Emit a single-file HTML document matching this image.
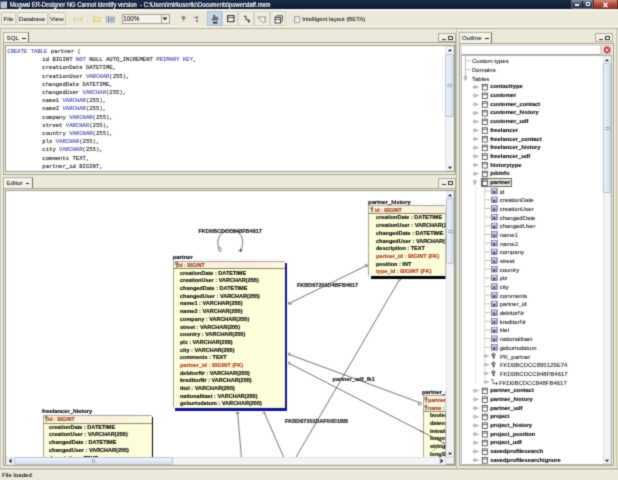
<!DOCTYPE html>
<html><head><meta charset="utf-8">
<style>
*{margin:0;padding:0;box-sizing:border-box}
html,body{width:618px;height:480px;overflow:hidden;background:#ece9d8;font-family:"Liberation Sans",sans-serif;position:relative}
.a{position:absolute}
.t{position:absolute;white-space:pre;line-height:1}
#title{left:0;top:0;width:618px;height:9px;background:linear-gradient(#1c2c48,#0c1a30)}
.btn{position:absolute;border:1px solid #cdc9b8;background:#f0ede3;font-size:6.2px;color:#2a2a2a;-webkit-text-stroke:0.1px #2a2a2a;text-align:center;line-height:11px;border-radius:1px}
.tab{position:absolute;border:1px solid #9d9a89;border-bottom:none;background:#f0eee2;font-size:6px;color:#333}
.minmax{position:absolute;border:1px solid #a8a595;background:#f4f2ea}
.white{position:absolute;background:#fff}
.vs{position:absolute;background:#eef0f4;border-left:1px solid #e2e4e8}
.sql{position:absolute;font-family:"Liberation Mono",monospace;font-size:5.58px;color:#262626;white-space:pre;line-height:8.2px;-webkit-text-stroke:0.12px #262626}
.kw{color:#3a3aa8;-webkit-text-stroke:0.08px #3a3aa8}
.tree{position:absolute;font-size:6px;color:#111;white-space:pre;line-height:8.68px}
.tbl{position:absolute;background:#ffffdc;border:1px solid #a8a8a0}
.tbl .r{position:absolute;left:0;white-space:pre;font-size:5.6px;font-weight:bold;color:#1a1a10;line-height:1}
.fk{color:#b83a20 !important}
.ttl{position:absolute;font-size:5.8px;font-weight:bold;color:#111;white-space:pre;line-height:1}
.lbl{position:absolute;font-size:5.5px;font-weight:bold;color:#333;white-space:pre;line-height:1}
</style></head><body><svg width="0" height="0" style="position:absolute"><filter id="soft" x="0" y="0" width="100%" height="100%" color-interpolation-filters="sRGB"><feConvolveMatrix order="3" kernelMatrix="1 2 1 2 12 2 1 2 1" edgeMode="duplicate" preserveAlpha="true"/></filter></svg><div id="root" style="position:absolute;left:0;top:0;width:618px;height:480px;overflow:hidden;background:#ece9d8;will-change:transform;filter:url(#soft)">
<div id="title" class="a"></div>
<svg class="a" style="left:0;top:1px" width="8" height="8"><rect x="0.6" y="0.6" width="6.4" height="6.6" fill="#d8dce2"/><rect x="1.6" y="1.5" width="2" height="2" fill="#9aa2ae"/><rect x="4.2" y="1.5" width="2" height="2" fill="#b8bec8"/><rect x="1.6" y="4.3" width="2" height="2" fill="#b0b6c0"/><rect x="4.2" y="4.3" width="2" height="2" fill="#a0a8b2"/></svg>
<div class="t" style="left:10.4px;top:1.6px;font-size:6.5px;color:#fff;transform:scaleX(0.9);transform-origin:0 0;-webkit-text-stroke:0.2px #fff">Mogwai ER-Designer NG Cannot identify version  - C:\Users\mirkosertic\Documents\powerstaff.mxm</div>
<div class="a" style="left:571px;top:0;width:22px;height:8.6px;background:linear-gradient(#8894a4,#3a4454 55%,#2c3646);border:0.6px solid #5a6676;border-top:none;border-radius:0 0 0 2px"></div>
<div class="a" style="left:582.2px;top:0.5px;width:0.8px;height:7.5px;background:#1c2430"></div>
<div class="a" style="left:574.5px;top:4.3px;width:4.8px;height:1.4px;background:#f0f4f8"></div>
<div class="a" style="left:585.8px;top:2.2px;width:4.2px;height:3.8px;border:1px solid #f0f4f8;border-top-width:1.4px"></div>
<div class="a" style="left:593px;top:0;width:24.5px;height:8.6px;background:linear-gradient(#d88a7a,#b04a38 55%,#9a3828);border:0.6px solid #6a2a20;border-top:none;border-radius:0 0 2px 0"></div>
<svg class="a" style="left:602px;top:1.5px" width="7" height="6" viewBox="0 0 7 6"><path d="M1.5 0.8l4 4.4M5.5 0.8l-4 4.4" stroke="#fff" stroke-width="1.3"/></svg>


<!-- toolbar -->
<div class="a" style="left:0;top:9px;width:618px;height:1.5px;background:#f6f4ec"></div>
<div class="btn" style="left:1px;top:12px;width:15px;height:13px;line-height:12px">File</div>
<div class="btn" style="left:16.5px;top:12px;width:31px;height:13px;line-height:12px">Database</div>
<div class="btn" style="left:48.5px;top:12px;width:17px;height:13px;line-height:12px">View</div>
<div class="a" style="left:0;top:26px;width:618px;height:1px;background:#f8f6ee"></div>
<div class="a" style="left:0;top:28px;width:618px;height:1px;background:#b8b4a2"></div>
<!-- new icon -->
<svg class="a" style="left:73px;top:15.5px" width="10" height="6.5" viewBox="0 0 10 6.5"><g stroke="#e0c88a" stroke-width="1"><path d="M1.5 1v4.5M0.3 3.2h2.4M5 1v4.5M3.8 3.2h2.4M8.5 1v4.5M7.3 3.2h2.4"/></g></svg>
<div class="a" style="left:86.5px;top:15px;width:0.8px;height:7px;background:#e4e0d2"></div>
<!-- folder -->
<svg class="a" style="left:92.5px;top:16px" width="8.5" height="6" viewBox="0 0 8.5 6"><path d="M0.5 0.8h2.6l0.8 0.8h4.1v4h-7.5z" fill="#ece29c" stroke="#cdbb6a" stroke-width="0.6"/><path d="M0.5 2.6h7.5" stroke="#fff6c8" stroke-width="0.7"/></svg>
<!-- blue icon -->
<svg class="a" style="left:105.5px;top:16px" width="9" height="7" viewBox="0 0 9 7"><rect x="0.5" y="0.5" width="8" height="6" fill="#cfdcea" stroke="#8aa0b8" stroke-width="0.6"/><path d="M2.5 1.2v4.8M4 2.5h3.6M4 4.6h3.6" stroke="#4a5a70" stroke-width="0.8"/></svg>
<!-- zoom combo -->
<div class="a" style="left:121.5px;top:13.8px;width:48.5px;height:10px;background:#f5f3ec;border:1px solid #a4a292"></div>
<div class="t" style="left:123.3px;top:15.6px;font-size:6.3px;color:#2a2a2a;-webkit-text-stroke:0.1px #2a2a2a">100%</div>
<div class="a" style="left:160.6px;top:14.6px;width:8.6px;height:8.4px;background:#f2f0e8;border-left:1px solid #a8a698"></div>
<svg class="a" style="left:162.2px;top:17.4px" width="6" height="4" viewBox="0 0 6 4"><path d="M0.6 0.6h4.8L3 3.2z" fill="#111"/></svg>
<!-- green/red icons -->
<svg class="a" style="left:179.5px;top:15px" width="7" height="8" viewBox="0 0 7 8"><path d="M1 2l2.5-1.2L6 2.2 4.4 4.5 3.6 7 2.6 4.4z" fill="#6c8c6a" stroke="#c8dcc4" stroke-width="0.5"/></svg>
<svg class="a" style="left:191.5px;top:15px" width="8" height="8" viewBox="0 0 8 8"><path d="M1 2.2l3-1.4 3 1.4-2.2 2.4L1.8 3.6z" fill="#c8bccc"/><circle cx="4.8" cy="2.6" r="1" fill="#6a5a60"/><circle cx="5.2" cy="6" r="0.9" fill="#5a4a50"/></svg>
<!-- toggle buttons -->
<div class="a" style="left:206.5px;top:11px;width:15.3px;height:15px;background:#c6d6e8;border:1px solid #a8bcd2"></div>
<div class="a" style="left:222.3px;top:11px;width:15.5px;height:15px;background:#efece2;border:1px solid #d6d3c4"></div>
<div class="a" style="left:238.2px;top:11px;width:15.6px;height:15px;background:#efece2;border:1px solid #d6d3c4"></div>
<div class="a" style="left:254.2px;top:11px;width:15.6px;height:15px;background:#efece2;border:1px solid #d6d3c4"></div>
<div class="a" style="left:270.2px;top:11px;width:15.6px;height:15px;background:#efece2;border:1px solid #d6d3c4"></div>
<svg class="a" style="left:211px;top:13.5px" width="8" height="10" viewBox="0 0 8 10"><path d="M2.6 1v4.2L1.2 4.6 0.8 5.4 2.6 7.2h3.6l0.6-1.6V3.6L5.8 3.2 5 3.4 4 3V1.6z" fill="#6a6e78" stroke="#3a3c44" stroke-width="0.5"/><rect x="2" y="6.6" width="4.6" height="1.2" fill="#fff"/><rect x="2" y="7.8" width="4.4" height="1.7" fill="#222"/></svg>
<svg class="a" style="left:226.5px;top:15.3px" width="8" height="7.5" viewBox="0 0 8 7.5"><rect x="0.6" y="0.6" width="6.4" height="6" fill="#fff" stroke="#333" stroke-width="1.1"/><path d="M0.6 2.8h6.4" stroke="#333" stroke-width="0.9"/></svg>
<svg class="a" style="left:243px;top:15px" width="8" height="8" viewBox="0 0 8 8"><path d="M0.8 1.3h2.2v3.5h3v2.2" fill="none" stroke="#222" stroke-width="0.9"/><circle cx="6" cy="6.6" r="0.9" fill="#111"/></svg>
<svg class="a" style="left:256.5px;top:15.5px" width="10.5" height="7.5" viewBox="0 0 10.5 7.5"><path d="M0.6 1h8.4l-1.2 2.2 0.8 2.6-2.4 1-5.6-5.8z" fill="#f6f6ee" stroke="#708a78" stroke-width="0.9"/></svg>
<svg class="a" style="left:273.5px;top:14.5px" width="10.5" height="9.5" viewBox="0 0 10.5 9.5"><path d="M1 2.5l2-1.8h5.5v5.3l-2 1.8z" fill="#ddd" stroke="#333" stroke-width="0.8"/><rect x="1" y="2.5" width="5.5" height="5.5" fill="#fff" stroke="#333" stroke-width="0.9"/><path d="M1 4.5h5.5" stroke="#333" stroke-width="0.8"/></svg>
<!-- checkbox -->
<div class="a" style="left:293.8px;top:16px;width:6.6px;height:6.6px;background:linear-gradient(135deg,#dcdcd6,#fafaf6);border:1px solid #9ca8b4"></div>
<div class="t" style="left:302.2px;top:16.5px;font-size:5.9px;color:#222;-webkit-text-stroke:0.08px #222">Intelligent layout (BETA)</div>

<div class="a" style="left:0.3px;top:29px;width:1px;height:439px;background:#cdcabb"></div>
<div class="a" style="left:3px;top:42px;width:453px;height:132.8px;border:1px solid #a6a496;background:#ece9d8"></div>
<div class="a" style="left:3px;top:32.3px;width:25.8px;height:10.200000000000003px;background:#f4f2ea;border:1px solid #b5b2a0;border-bottom:none;border-right:1.2px solid #6e6b5e"></div><div class="t" style="left:6.6px;top:35.30px;font-size:6.2px;color:#2e2e2e;-webkit-text-stroke:0.1px #2e2e2e">SQL</div><div class="a" style="left:22px;top:37.60px;width:3.6px;height:1.3px;background:#222"></div>
<div class="a" style="left:438.3px;top:33.2px;width:17.6px;height:8.8px;background:#f2f0e8;border:1px solid #aeab9c"></div><div class="a" style="left:442.10px;top:38.80px;width:3.6px;height:1.2px;background:#3a3a3a"></div><div class="a" style="left:448.10px;top:35.80px;width:4.8px;height:4px;border:1.1px solid #333;border-top-width:1.5px;border-radius:0.5px"></div>
<div class="a" style="left:5px;top:45.2px;width:449.5px;height:126.6px;border:1px solid #9c9a8c;background:#fff"></div>
<div class="sql" style="left:7.3px;top:48px"><span class="kw">CREATE TABLE</span> partner (</div>
<div class="sql" style="left:8.9px;top:56.2px">          id BIGINT <span class="kw">NOT</span> NULL AUTO_INCREMENT <span class="kw">PRIMARY KEY</span>,
          creationDate DATETIME,
          creationUser <span class="kw">VARCHAR</span>(255),
          changedDate DATETIME,
          changedUser <span class="kw">VARCHAR</span>(255),
          name1 <span class="kw">VARCHAR</span>(255),
          name2 <span class="kw">VARCHAR</span>(255),
          company <span class="kw">VARCHAR</span>(255),
          street <span class="kw">VARCHAR</span>(255),
          country <span class="kw">VARCHAR</span>(255),
          plz <span class="kw">VARCHAR</span>(255),
          city <span class="kw">VARCHAR</span>(255),
          comments TEXT,
          partner_id BIGINT,</div>
<div class="a" style="left:445px;top:46px;width:8.6px;height:125px;background:#f3f4f6;border:1px solid #dfe3e8"></div><div class="a" style="left:445px;top:54px;width:8.6px;height:62.5px;background:linear-gradient(90deg,#eef3f9,#d3dfec);border:1px solid #b4c4d6;border-radius:1px"></div><div class="a" style="left:447px;top:84.00px;width:5px;height:0.7px;background:#9aaac0"></div><div class="a" style="left:447px;top:86.00px;width:5px;height:0.7px;background:#9aaac0"></div><svg class="a" style="left:446.5px;top:47.8px" width="6" height="4"><path d="M0.8 3.2L3 1 5.2 3.2z" fill="#223"/></svg><svg class="a" style="left:446.5px;top:165.8px" width="6" height="4"><path d="M0.8 0.8L3 3 5.2 0.8z" fill="#223"/></svg>
<div class="a" style="left:3px;top:187.8px;width:453px;height:278.2px;border:1px solid #a6a496;background:#ece9d8"></div>
<div class="a" style="left:3px;top:177px;width:29.799999999999997px;height:11.300000000000011px;background:#f4f2ea;border:1px solid #b5b2a0;border-bottom:none;border-right:1.2px solid #6e6b5e"></div><div class="t" style="left:6.6px;top:180.00px;font-size:6.2px;color:#2e2e2e;-webkit-text-stroke:0.1px #2e2e2e">Editor</div><div class="a" style="left:25.8px;top:182.85px;width:3.6px;height:1.3px;background:#222"></div>
<div class="a" style="left:438.3px;top:178.4px;width:17.4px;height:10.2px;background:#f2f0e8;border:1px solid #aeab9c"></div><div class="a" style="left:442.10px;top:184.00px;width:3.6px;height:1.2px;background:#3a3a3a"></div><div class="a" style="left:448.10px;top:181.00px;width:4.8px;height:4px;border:1.1px solid #333;border-top-width:1.5px;border-radius:0.5px"></div>
<div class="a" style="left:5px;top:190px;width:449.5px;height:275px;border:1px solid #9c9a8c;background:#fff"></div>
<div class="a" style="left:0;top:0;width:618px;height:480px;clip-path:inset(191px 172.5px 23px 6px)"><svg class="a" style="left:0;top:0" width="618" height="480"><path d="M220 251.5C214 238 222 230 230.5 230.5C240 230 246 238 240.5 252" fill="none" stroke="#3c3c3c" stroke-width="0.7"/><path d="M218.6 249.5l1.5 2.2 1.5-2.2-1.5-2.2z" fill="#fff" stroke="#3c3c3c" stroke-width="0.6"/><path d="M238.3 250.5h4.4M240.5 248.5v3.5" stroke="#3c3c3c" stroke-width="0.7"/><path d="M288 304L367.5 265" stroke="#3c3c3c" stroke-width="0.7"/><path d="M288.5 301.5l1 2.8 2.6-0.5" fill="none" stroke="#3c3c3c" stroke-width="0.6"/><path d="M365 264.5l1.8 0.3 0.8 1.9-1.8-0.3z" fill="#fff" stroke="#3c3c3c" stroke-width="0.6"/><path d="M399.5 279.5L295.5 458" stroke="#3c3c3c" stroke-width="0.7"/><path d="M398.5 279.5l1.3 -1.2 1.0 1.5 -1.3 1.2z" fill="#fff" stroke="#3c3c3c" stroke-width="0.6"/><path d="M288 354L421.5 403.3" stroke="#3c3c3c" stroke-width="0.7"/><path d="M288.5 352l1.5 2.2 -1.5 1.8" fill="none" stroke="#3c3c3c" stroke-width="0.6"/><path d="M419 402l2.5 1.3 -1.2 2.2 -2.3 -1.2z" fill="#fff" stroke="#3c3c3c" stroke-width="0.6"/><path d="M288 362.8L446 444" stroke="#3c3c3c" stroke-width="0.7"/><path d="M288.5 361l1.5 2 -1.5 1.8" fill="none" stroke="#3c3c3c" stroke-width="0.6"/><path d="M237.5 412L241.5 458" stroke="#3c3c3c" stroke-width="0.7"/><path d="M235.5 413h4" stroke="#3c3c3c" stroke-width="0.7"/><path d="M264 412L284 458" stroke="#3c3c3c" stroke-width="0.7"/><path d="M262.5 413.5l1.5-1.5 1.5 0.8" fill="none" stroke="#3c3c3c" stroke-width="0.6"/></svg><div class="t" style="left:198.4px;top:228.6px;font-size:5.55px;font-weight:bold;color:#1a1a1a;-webkit-text-stroke:0.18px #1a1a1a">FKD0BCDCC848FB4617</div><div class="t" style="left:297px;top:282.8px;font-size:5.5px;font-weight:bold;color:#1a1a1a;-webkit-text-stroke:0.18px #1a1a1a">FKBD67201D4BFB4617</div><div class="t" style="left:332.5px;top:377.1px;font-size:5.6px;font-weight:bold;color:#1a1a1a;-webkit-text-stroke:0.18px #1a1a1a">partner_udf_fk1</div><div class="t" style="left:285px;top:419.4px;font-size:5.5px;font-weight:bold;color:#1a1a1a;-webkit-text-stroke:0.18px #1a1a1a">FKBD67201DAF00D1BB</div><div class="t" style="left:172.8px;top:255.10px;font-size:5.8px;font-weight:bold;color:#000;-webkit-text-stroke:0.15px #000">partner</div><div class="a" style="left:175.40px;top:262.60px;width:111.90px;height:148.40px;background:#14148c"></div><div class="a" style="left:173.20px;top:260.80px;width:111.80px;height:147.20px;background:#fdfed9;border:1px solid #a4a498;border-right:1.3px solid #f6f6ee;border-bottom:1.2px solid #f6f6ee"></div><div class="a" style="left:174.20px;top:261.80px;width:109.50px;height:6.40px;background:linear-gradient(90deg,#fdf6e0,#fbeede 60%,#fdf8e4)"></div><div class="a" style="left:173.20px;top:268.20px;width:111.80px;height:0.9px;background:#8a8a60"></div><div class="t" style="left:178.30px;top:261.70px;font-size:6px;font-weight:bold;color:#9a3416;transform:scaleX(0.86);transform-origin:0 0;-webkit-text-stroke:0.14px #9a3416">id : BIGINT</div><div class="t" style="left:180.00px;top:269.70px;font-size:6px;font-weight:bold;color:#000000;transform:scaleX(0.92);transform-origin:0 0;-webkit-text-stroke:0.14px #000000">creationDate : DATETIME</div><div class="t" style="left:180.00px;top:277.39px;font-size:6px;font-weight:bold;color:#000000;transform:scaleX(0.92);transform-origin:0 0;-webkit-text-stroke:0.14px #000000">creationUser : VARCHAR(255)</div><div class="t" style="left:180.00px;top:285.08px;font-size:6px;font-weight:bold;color:#000000;transform:scaleX(0.92);transform-origin:0 0;-webkit-text-stroke:0.14px #000000">changedDate : DATETIME</div><div class="t" style="left:180.00px;top:292.77px;font-size:6px;font-weight:bold;color:#000000;transform:scaleX(0.92);transform-origin:0 0;-webkit-text-stroke:0.14px #000000">changedUser : VARCHAR(255)</div><div class="t" style="left:180.00px;top:300.46px;font-size:6px;font-weight:bold;color:#000000;transform:scaleX(0.92);transform-origin:0 0;-webkit-text-stroke:0.14px #000000">name1 : VARCHAR(255)</div><div class="t" style="left:180.00px;top:308.15px;font-size:6px;font-weight:bold;color:#000000;transform:scaleX(0.92);transform-origin:0 0;-webkit-text-stroke:0.14px #000000">name2 : VARCHAR(255)</div><div class="t" style="left:180.00px;top:315.84px;font-size:6px;font-weight:bold;color:#000000;transform:scaleX(0.92);transform-origin:0 0;-webkit-text-stroke:0.14px #000000">company : VARCHAR(255)</div><div class="t" style="left:180.00px;top:323.53px;font-size:6px;font-weight:bold;color:#000000;transform:scaleX(0.92);transform-origin:0 0;-webkit-text-stroke:0.14px #000000">street : VARCHAR(255)</div><div class="t" style="left:180.00px;top:331.22px;font-size:6px;font-weight:bold;color:#000000;transform:scaleX(0.92);transform-origin:0 0;-webkit-text-stroke:0.14px #000000">country : VARCHAR(255)</div><div class="t" style="left:180.00px;top:338.91px;font-size:6px;font-weight:bold;color:#000000;transform:scaleX(0.92);transform-origin:0 0;-webkit-text-stroke:0.14px #000000">plz : VARCHAR(255)</div><div class="t" style="left:180.00px;top:346.60px;font-size:6px;font-weight:bold;color:#000000;transform:scaleX(0.92);transform-origin:0 0;-webkit-text-stroke:0.14px #000000">city : VARCHAR(255)</div><div class="t" style="left:180.00px;top:354.29px;font-size:6px;font-weight:bold;color:#000000;transform:scaleX(0.92);transform-origin:0 0;-webkit-text-stroke:0.14px #000000">comments : TEXT</div><div class="t" style="left:180.00px;top:361.98px;font-size:6px;font-weight:bold;color:#b3361a;transform:scaleX(0.92);transform-origin:0 0;-webkit-text-stroke:0.14px #b3361a">partner_id : BIGINT (FK)</div><div class="t" style="left:180.00px;top:369.67px;font-size:6px;font-weight:bold;color:#000000;transform:scaleX(0.92);transform-origin:0 0;-webkit-text-stroke:0.14px #000000">debitorNr : VARCHAR(255)</div><div class="t" style="left:180.00px;top:377.36px;font-size:6px;font-weight:bold;color:#000000;transform:scaleX(0.92);transform-origin:0 0;-webkit-text-stroke:0.14px #000000">kreditorNr : VARCHAR(255)</div><div class="t" style="left:180.00px;top:385.05px;font-size:6px;font-weight:bold;color:#000000;transform:scaleX(0.92);transform-origin:0 0;-webkit-text-stroke:0.14px #000000">titel : VARCHAR(255)</div><div class="t" style="left:180.00px;top:392.74px;font-size:6px;font-weight:bold;color:#000000;transform:scaleX(0.92);transform-origin:0 0;-webkit-text-stroke:0.14px #000000">nationalitaet : VARCHAR(255)</div><div class="t" style="left:180.00px;top:400.43px;font-size:6px;font-weight:bold;color:#000000;transform:scaleX(0.92);transform-origin:0 0;-webkit-text-stroke:0.14px #000000">geburtsdatum : VARCHAR(255)</div><div class="t" style="left:368.1px;top:200.20px;font-size:5.8px;font-weight:bold;color:#000;-webkit-text-stroke:0.15px #000">partner_history</div><div class="a" style="left:370.60px;top:207.20px;width:100.90px;height:71.50px;background:#000"></div><div class="a" style="left:368.40px;top:205.40px;width:101.60px;height:71.10px;background:#fdfed9;border:1px solid #a4a498;border-right:1.3px solid #f6f6ee;border-bottom:1.2px solid #f6f6ee"></div><div class="a" style="left:369.40px;top:206.40px;width:99.30px;height:6.30px;background:linear-gradient(90deg,#fdf6e0,#fbeede 60%,#fdf8e4)"></div><div class="a" style="left:368.40px;top:212.70px;width:101.60px;height:0.9px;background:#8a8a60"></div><div class="t" style="left:375.00px;top:206.50px;font-size:6px;font-weight:bold;color:#9a3416;transform:scaleX(0.86);transform-origin:0 0;-webkit-text-stroke:0.14px #9a3416">id : BIGINT</div><div class="t" style="left:375.60px;top:214.40px;font-size:6px;font-weight:bold;color:#000000;transform:scaleX(0.92);transform-origin:0 0;-webkit-text-stroke:0.14px #000000">creationDate : DATETIME</div><div class="t" style="left:375.60px;top:222.10px;font-size:6px;font-weight:bold;color:#000000;transform:scaleX(0.92);transform-origin:0 0;-webkit-text-stroke:0.14px #000000">creationUser : VARCHAR(255)</div><div class="t" style="left:375.60px;top:229.80px;font-size:6px;font-weight:bold;color:#000000;transform:scaleX(0.92);transform-origin:0 0;-webkit-text-stroke:0.14px #000000">changedDate : DATETIME</div><div class="t" style="left:375.60px;top:237.50px;font-size:6px;font-weight:bold;color:#000000;transform:scaleX(0.92);transform-origin:0 0;-webkit-text-stroke:0.14px #000000">changedUser : VARCHAR(255)</div><div class="t" style="left:375.60px;top:245.20px;font-size:6px;font-weight:bold;color:#000000;transform:scaleX(0.92);transform-origin:0 0;-webkit-text-stroke:0.14px #000000">description : TEXT</div><div class="t" style="left:375.60px;top:252.90px;font-size:6px;font-weight:bold;color:#b3361a;transform:scaleX(0.92);transform-origin:0 0;-webkit-text-stroke:0.14px #b3361a">partner_id : BIGINT (FK)</div><div class="t" style="left:375.60px;top:260.60px;font-size:6px;font-weight:bold;color:#000000;transform:scaleX(0.92);transform-origin:0 0;-webkit-text-stroke:0.14px #000000">position : INT</div><div class="t" style="left:375.60px;top:268.30px;font-size:6px;font-weight:bold;color:#b3361a;transform:scaleX(0.92);transform-origin:0 0;-webkit-text-stroke:0.14px #b3361a">type_id : BIGINT (FK)</div><div class="t" style="left:42px;top:409.10px;font-size:5.8px;font-weight:bold;color:#000;-webkit-text-stroke:0.15px #000">freelancer_history</div><div class="a" style="left:45.00px;top:417.00px;width:108.30px;height:55.20px;background:#000"></div><div class="a" style="left:42.80px;top:415.20px;width:109.00px;height:54.80px;background:#fdfed9;border:1px solid #a4a498;border-right:1.3px solid #f6f6ee;border-bottom:1.2px solid #f6f6ee"></div><div class="a" style="left:43.80px;top:416.20px;width:106.70px;height:6.30px;background:linear-gradient(90deg,#fdf6e0,#fbeede 60%,#fdf8e4)"></div><div class="a" style="left:42.80px;top:422.50px;width:109.00px;height:0.9px;background:#8a8a60"></div><div class="t" style="left:47.50px;top:415.70px;font-size:6px;font-weight:bold;color:#9a3416;transform:scaleX(0.86);transform-origin:0 0;-webkit-text-stroke:0.14px #9a3416">id : BIGINT</div><div class="t" style="left:49.00px;top:423.70px;font-size:6px;font-weight:bold;color:#000000;transform:scaleX(0.92);transform-origin:0 0;-webkit-text-stroke:0.14px #000000">creationDate : DATETIME</div><div class="t" style="left:49.00px;top:431.45px;font-size:6px;font-weight:bold;color:#000000;transform:scaleX(0.92);transform-origin:0 0;-webkit-text-stroke:0.14px #000000">creationUser : VARCHAR(255)</div><div class="t" style="left:49.00px;top:439.20px;font-size:6px;font-weight:bold;color:#000000;transform:scaleX(0.92);transform-origin:0 0;-webkit-text-stroke:0.14px #000000">changedDate : DATETIME</div><div class="t" style="left:49.00px;top:446.95px;font-size:6px;font-weight:bold;color:#000000;transform:scaleX(0.92);transform-origin:0 0;-webkit-text-stroke:0.14px #000000">changedUser : VARCHAR(255)</div><div class="t" style="left:49.00px;top:454.70px;font-size:6px;font-weight:bold;color:#000000;transform:scaleX(0.92);transform-origin:0 0;-webkit-text-stroke:0.14px #000000">description : TEXT</div><div class="t" style="left:49.00px;top:462.45px;font-size:6px;font-weight:bold;color:#b3361a;transform:scaleX(0.92);transform-origin:0 0;-webkit-text-stroke:0.14px #b3361a">freelancer_id : BIGINT (FK)</div><div class="t" style="left:422px;top:389.80px;font-size:5.8px;font-weight:bold;color:#000;-webkit-text-stroke:0.15px #000">partner_udf</div><div class="a" style="left:424.70px;top:397.20px;width:97.60px;height:75.80px;background:#000"></div><div class="a" style="left:422.50px;top:395.40px;width:97.50px;height:74.60px;background:#fdfed9;border:1px solid #a4a498;border-right:1.3px solid #f6f6ee;border-bottom:1.2px solid #f6f6ee"></div><div class="a" style="left:423.50px;top:396.40px;width:95.20px;height:14.60px;background:linear-gradient(90deg,#fdf6e0,#fbeede 60%,#fdf8e4)"></div><div class="a" style="left:422.50px;top:411.00px;width:97.50px;height:0.9px;background:#8a8a60"></div><div class="t" style="left:428.00px;top:396.60px;font-size:6px;font-weight:bold;color:#9a3416;transform:scaleX(0.86);transform-origin:0 0;-webkit-text-stroke:0.14px #9a3416">partner_id : BIGINT (FK)</div><div class="t" style="left:428.00px;top:404.50px;font-size:6px;font-weight:bold;color:#9a3416;transform:scaleX(0.86);transform-origin:0 0;-webkit-text-stroke:0.14px #9a3416">name : VARCHAR(255)</div><div class="t" style="left:429.50px;top:412.20px;font-size:6px;font-weight:bold;color:#000000;transform:scaleX(0.92);transform-origin:0 0;-webkit-text-stroke:0.14px #000000">booleanvalue : BOOLEAN</div><div class="t" style="left:429.50px;top:419.90px;font-size:6px;font-weight:bold;color:#000000;transform:scaleX(0.92);transform-origin:0 0;-webkit-text-stroke:0.14px #000000">datevalue : DATETIME</div><div class="t" style="left:429.50px;top:427.60px;font-size:6px;font-weight:bold;color:#000000;transform:scaleX(0.92);transform-origin:0 0;-webkit-text-stroke:0.14px #000000">intvalue : INT</div><div class="t" style="left:429.50px;top:435.30px;font-size:6px;font-weight:bold;color:#000000;transform:scaleX(0.92);transform-origin:0 0;-webkit-text-stroke:0.14px #000000">longvalue : BIGINT</div><div class="t" style="left:429.50px;top:443.00px;font-size:6px;font-weight:bold;color:#000000;transform:scaleX(0.92);transform-origin:0 0;-webkit-text-stroke:0.14px #000000">stringvalue : VARCHAR(255)</div><div class="t" style="left:429.50px;top:450.70px;font-size:6px;font-weight:bold;color:#000000;transform:scaleX(0.92);transform-origin:0 0;-webkit-text-stroke:0.14px #000000">longStringvalue : TEXT</div><svg class="a" style="left:0;top:0" width="618" height="480"><circle cx="176.70" cy="263.60" r="1.25" fill="#b8a468" stroke="#5e5024" stroke-width="0.7"/><path d="M176.70 264.80V267.60M176.70 266.70H177.70" stroke="#5e5024" stroke-width="0.8"/><circle cx="371.90" cy="208.40" r="1.25" fill="#b8a468" stroke="#5e5024" stroke-width="0.7"/><path d="M371.90 209.60V212.40M371.90 211.50H372.90" stroke="#5e5024" stroke-width="0.8"/><circle cx="46.30" cy="417.60" r="1.25" fill="#b8a468" stroke="#5e5024" stroke-width="0.7"/><path d="M46.30 418.80V421.60M46.30 420.70H47.30" stroke="#5e5024" stroke-width="0.8"/><circle cx="426.00" cy="398.50" r="1.25" fill="#b8a468" stroke="#5e5024" stroke-width="0.7"/><path d="M426.00 399.70V402.50M426.00 401.60H427.00" stroke="#5e5024" stroke-width="0.8"/><circle cx="426.00" cy="406.40" r="1.25" fill="#b8a468" stroke="#5e5024" stroke-width="0.7"/><path d="M426.00 407.60V410.40M426.00 409.50H427.00" stroke="#5e5024" stroke-width="0.8"/><path d="M420 430.6L446 444" stroke="#3c3c3c" stroke-width="0.7"/><path d="M432.5 451L446 441.5" stroke="#666" stroke-width="0.55"/></svg></div>
<div class="a" style="left:445.5px;top:190.8px;width:8.6px;height:266.7px;background:#f3f4f6;border:1px solid #dfe3e8"></div><div class="a" style="left:445.5px;top:198px;width:8.6px;height:65.5px;background:linear-gradient(90deg,#eef3f9,#d3dfec);border:1px solid #b4c4d6;border-radius:1px"></div><div class="a" style="left:447.5px;top:229.50px;width:5px;height:0.7px;background:#9aaac0"></div><div class="a" style="left:447.5px;top:231.50px;width:5px;height:0.7px;background:#9aaac0"></div><svg class="a" style="left:447.0px;top:192.60000000000002px" width="6" height="4"><path d="M0.8 3.2L3 1 5.2 3.2z" fill="#223"/></svg><svg class="a" style="left:447.0px;top:452.3px" width="6" height="4"><path d="M0.8 0.8L3 3 5.2 0.8z" fill="#223"/></svg>
<div class="a" style="left:6px;top:457.3px;width:439.5px;height:7.5px;background:#f3f4f6;border:1px solid #dfe3e8"></div>
<div class="a" style="left:14px;top:457.3px;width:159px;height:7.5px;background:linear-gradient(#eef3f9,#d3dfec);border:1px solid #b4c4d6;border-radius:1px"></div>
<div class="a" style="left:92.3px;top:459px;width:0.7px;height:4px;background:#9aaac0"></div><div class="a" style="left:94.3px;top:459px;width:0.7px;height:4px;background:#9aaac0"></div>
<svg class="a" style="left:8px;top:458.3px" width="4" height="6"><path d="M3.5 0.5L0.8 3 3.5 5.5z" fill="#223"/></svg>
<svg class="a" style="left:439.5px;top:458.3px" width="4" height="6"><path d="M0.5 0.5L3.2 3 0.5 5.5z" fill="#223"/></svg>
<div class="a" style="left:445.2px;top:457px;width:8.5px;height:7.2px;background:#f2f2ee;border:1px solid #dcdcd4"></div>
<div class="a" style="left:438.7px;top:457.3px;width:6.5px;height:6.8px;border-left:1px solid #d8dce2"></div>
<div class="a" style="left:455.5px;top:29px;width:1px;height:439px;background:#c4c1b0"></div>
<div class="a" style="left:459px;top:42.5px;width:155px;height:423.5px;border:1px solid #a6a496;background:#ece9d8"></div>
<div class="a" style="left:459.2px;top:32.3px;width:33.30000000000001px;height:10.700000000000003px;background:#f4f2ea;border:1px solid #b5b2a0;border-bottom:none;border-right:1.2px solid #6e6b5e"></div><div class="t" style="left:462px;top:35.30px;font-size:6.2px;color:#2e2e2e;-webkit-text-stroke:0.1px #2e2e2e">Outline</div><div class="a" style="left:485px;top:37.85px;width:3.6px;height:1.3px;background:#222"></div>
<div class="a" style="left:595.3px;top:33.2px;width:18px;height:9.2px;background:#f2f0e8;border:1px solid #aeab9c"></div><div class="a" style="left:599.10px;top:38.80px;width:3.6px;height:1.2px;background:#3a3a3a"></div><div class="a" style="left:605.10px;top:35.80px;width:4.8px;height:4px;border:1.1px solid #333;border-top-width:1.5px;border-radius:0.5px"></div>
<div class="a" style="left:461px;top:45px;width:140px;height:10px;border:1px solid #d4d8dc;border-bottom:1.3px solid #a4a8a8;background:#fff"></div>
<div class="a" style="left:600.6px;top:45px;width:10.8px;height:10.3px;background:#f4e4e0;border:1px solid #dcc4c0"></div>
<svg class="a" style="left:602.7px;top:46.2px" width="8" height="8" viewBox="0 0 8 8"><circle cx="4" cy="4" r="3.4" fill="#c24440"/><path d="M2.5 2.5l3 3M5.5 2.5l-3 3" stroke="#fff" stroke-width="0.9"/></svg>
<div class="a" style="left:461px;top:55.3px;width:151px;height:409.5px;border:1px solid #b8b8b0;background:#fff"></div>
<div class="a" style="left:0;top:0;width:618px;height:480px;clip-path:inset(56px 15px 16px 461px)"><div class="a" style="left:481px;top:177.62px;width:30.5px;height:9px;border:1px solid #6a6a64;background:#ebe9e0"></div><svg class="a" style="left:0;top:0" width="618" height="480"><path d="M465.5 56V76.75999999999999" stroke="#b4b4b4" stroke-width="0.8"/><path d="M484.6 186.92V382.05999999999995" stroke="#cfcfcf" stroke-width="0.8"/><path d="M475.5 186.42V384.05999999999995" stroke="#e2e2e2" stroke-width="0.8"/><path d="M465.5 60.90H470.5" stroke="#b4b4b4" stroke-width="0.8"/><path d="M465.5 69.58H470.5" stroke="#b4b4b4" stroke-width="0.8"/><circle cx="465.5" cy="77.46" r="1.3" fill="#fff" stroke="#666" stroke-width="0.7"/><path d="M465.5 78.76V80.76" stroke="#666" stroke-width="0.7"/><circle cx="474.8" cy="86.94" r="1.3" fill="#fff" stroke="#666" stroke-width="0.7"/><path d="M476.1 86.94H478.5" stroke="#666" stroke-width="0.7"/><rect x="482.3" y="84.34" width="5" height="5.6" fill="#fff" stroke="#333" stroke-width="0.75"/><path d="M482.3 85.94H487.3" stroke="#333" stroke-width="0.7"/><circle cx="474.8" cy="95.62" r="1.3" fill="#fff" stroke="#666" stroke-width="0.7"/><path d="M476.1 95.62H478.5" stroke="#666" stroke-width="0.7"/><rect x="482.3" y="93.02" width="5" height="5.6" fill="#fff" stroke="#333" stroke-width="0.75"/><path d="M482.3 94.62H487.3" stroke="#333" stroke-width="0.7"/><circle cx="474.8" cy="104.30" r="1.3" fill="#fff" stroke="#666" stroke-width="0.7"/><path d="M476.1 104.30H478.5" stroke="#666" stroke-width="0.7"/><rect x="482.3" y="101.70" width="5" height="5.6" fill="#fff" stroke="#333" stroke-width="0.75"/><path d="M482.3 103.30H487.3" stroke="#333" stroke-width="0.7"/><circle cx="474.8" cy="112.98" r="1.3" fill="#fff" stroke="#666" stroke-width="0.7"/><path d="M476.1 112.98H478.5" stroke="#666" stroke-width="0.7"/><rect x="482.3" y="110.38" width="5" height="5.6" fill="#fff" stroke="#333" stroke-width="0.75"/><path d="M482.3 111.98H487.3" stroke="#333" stroke-width="0.7"/><circle cx="474.8" cy="121.66" r="1.3" fill="#fff" stroke="#666" stroke-width="0.7"/><path d="M476.1 121.66H478.5" stroke="#666" stroke-width="0.7"/><rect x="482.3" y="119.06" width="5" height="5.6" fill="#fff" stroke="#333" stroke-width="0.75"/><path d="M482.3 120.66H487.3" stroke="#333" stroke-width="0.7"/><circle cx="474.8" cy="130.34" r="1.3" fill="#fff" stroke="#666" stroke-width="0.7"/><path d="M476.1 130.34H478.5" stroke="#666" stroke-width="0.7"/><rect x="482.3" y="127.74" width="5" height="5.6" fill="#fff" stroke="#333" stroke-width="0.75"/><path d="M482.3 129.34H487.3" stroke="#333" stroke-width="0.7"/><circle cx="474.8" cy="139.02" r="1.3" fill="#fff" stroke="#666" stroke-width="0.7"/><path d="M476.1 139.02H478.5" stroke="#666" stroke-width="0.7"/><rect x="482.3" y="136.42" width="5" height="5.6" fill="#fff" stroke="#333" stroke-width="0.75"/><path d="M482.3 138.02H487.3" stroke="#333" stroke-width="0.7"/><circle cx="474.8" cy="147.70" r="1.3" fill="#fff" stroke="#666" stroke-width="0.7"/><path d="M476.1 147.70H478.5" stroke="#666" stroke-width="0.7"/><rect x="482.3" y="145.10" width="5" height="5.6" fill="#fff" stroke="#333" stroke-width="0.75"/><path d="M482.3 146.70H487.3" stroke="#333" stroke-width="0.7"/><circle cx="474.8" cy="156.38" r="1.3" fill="#fff" stroke="#666" stroke-width="0.7"/><path d="M476.1 156.38H478.5" stroke="#666" stroke-width="0.7"/><rect x="482.3" y="153.78" width="5" height="5.6" fill="#fff" stroke="#333" stroke-width="0.75"/><path d="M482.3 155.38H487.3" stroke="#333" stroke-width="0.7"/><circle cx="474.8" cy="165.06" r="1.3" fill="#fff" stroke="#666" stroke-width="0.7"/><path d="M476.1 165.06H478.5" stroke="#666" stroke-width="0.7"/><rect x="482.3" y="162.46" width="5" height="5.6" fill="#fff" stroke="#333" stroke-width="0.75"/><path d="M482.3 164.06H487.3" stroke="#333" stroke-width="0.7"/><circle cx="474.8" cy="173.74" r="1.3" fill="#fff" stroke="#666" stroke-width="0.7"/><path d="M476.1 173.74H478.5" stroke="#666" stroke-width="0.7"/><rect x="482.3" y="171.14" width="5" height="5.6" fill="#fff" stroke="#333" stroke-width="0.75"/><path d="M482.3 172.74H487.3" stroke="#333" stroke-width="0.7"/><circle cx="474.8" cy="181.62" r="1.3" fill="#fff" stroke="#666" stroke-width="0.7"/><path d="M474.8 182.92V184.92" stroke="#666" stroke-width="0.7"/><rect x="482.3" y="179.82" width="5" height="5.6" fill="#fff" stroke="#333" stroke-width="0.75"/><path d="M482.3 181.42H487.3" stroke="#333" stroke-width="0.7"/><path d="M485 191.10H490.5" stroke="#b4b4b4" stroke-width="0.8"/><rect x="491.3" y="188.30" width="5.9" height="5.6" fill="#8c7ca8" stroke="#5e5080" stroke-width="0.55"/><rect x="491.9" y="188.80" width="4.7" height="1.3" fill="#f0ecf6"/><rect x="492.3" y="190.70" width="3.9" height="2.2" fill="#e0dcea"/><rect x="493.3" y="191.20" width="1.9" height="1.7" fill="#1a1a2a"/><path d="M485 199.78H490.5" stroke="#b4b4b4" stroke-width="0.8"/><rect x="491.3" y="196.98" width="5.9" height="5.6" fill="#8c7ca8" stroke="#5e5080" stroke-width="0.55"/><rect x="491.9" y="197.48" width="4.7" height="1.3" fill="#f0ecf6"/><rect x="492.3" y="199.38" width="3.9" height="2.2" fill="#e0dcea"/><rect x="493.3" y="199.88" width="1.9" height="1.7" fill="#1a1a2a"/><path d="M485 208.46H490.5" stroke="#b4b4b4" stroke-width="0.8"/><rect x="491.3" y="205.66" width="5.9" height="5.6" fill="#8c7ca8" stroke="#5e5080" stroke-width="0.55"/><rect x="491.9" y="206.16" width="4.7" height="1.3" fill="#f0ecf6"/><rect x="492.3" y="208.06" width="3.9" height="2.2" fill="#e0dcea"/><rect x="493.3" y="208.56" width="1.9" height="1.7" fill="#1a1a2a"/><path d="M485 217.14H490.5" stroke="#b4b4b4" stroke-width="0.8"/><rect x="491.3" y="214.34" width="5.9" height="5.6" fill="#8c7ca8" stroke="#5e5080" stroke-width="0.55"/><rect x="491.9" y="214.84" width="4.7" height="1.3" fill="#f0ecf6"/><rect x="492.3" y="216.74" width="3.9" height="2.2" fill="#e0dcea"/><rect x="493.3" y="217.24" width="1.9" height="1.7" fill="#1a1a2a"/><path d="M485 225.82H490.5" stroke="#b4b4b4" stroke-width="0.8"/><rect x="491.3" y="223.02" width="5.9" height="5.6" fill="#8c7ca8" stroke="#5e5080" stroke-width="0.55"/><rect x="491.9" y="223.52" width="4.7" height="1.3" fill="#f0ecf6"/><rect x="492.3" y="225.42" width="3.9" height="2.2" fill="#e0dcea"/><rect x="493.3" y="225.92" width="1.9" height="1.7" fill="#1a1a2a"/><path d="M485 234.50H490.5" stroke="#b4b4b4" stroke-width="0.8"/><rect x="491.3" y="231.70" width="5.9" height="5.6" fill="#8c7ca8" stroke="#5e5080" stroke-width="0.55"/><rect x="491.9" y="232.20" width="4.7" height="1.3" fill="#f0ecf6"/><rect x="492.3" y="234.10" width="3.9" height="2.2" fill="#e0dcea"/><rect x="493.3" y="234.60" width="1.9" height="1.7" fill="#1a1a2a"/><path d="M485 243.18H490.5" stroke="#b4b4b4" stroke-width="0.8"/><rect x="491.3" y="240.38" width="5.9" height="5.6" fill="#8c7ca8" stroke="#5e5080" stroke-width="0.55"/><rect x="491.9" y="240.88" width="4.7" height="1.3" fill="#f0ecf6"/><rect x="492.3" y="242.78" width="3.9" height="2.2" fill="#e0dcea"/><rect x="493.3" y="243.28" width="1.9" height="1.7" fill="#1a1a2a"/><path d="M485 251.86H490.5" stroke="#b4b4b4" stroke-width="0.8"/><rect x="491.3" y="249.06" width="5.9" height="5.6" fill="#8c7ca8" stroke="#5e5080" stroke-width="0.55"/><rect x="491.9" y="249.56" width="4.7" height="1.3" fill="#f0ecf6"/><rect x="492.3" y="251.46" width="3.9" height="2.2" fill="#e0dcea"/><rect x="493.3" y="251.96" width="1.9" height="1.7" fill="#1a1a2a"/><path d="M485 260.54H490.5" stroke="#b4b4b4" stroke-width="0.8"/><rect x="491.3" y="257.74" width="5.9" height="5.6" fill="#8c7ca8" stroke="#5e5080" stroke-width="0.55"/><rect x="491.9" y="258.24" width="4.7" height="1.3" fill="#f0ecf6"/><rect x="492.3" y="260.14" width="3.9" height="2.2" fill="#e0dcea"/><rect x="493.3" y="260.64" width="1.9" height="1.7" fill="#1a1a2a"/><path d="M485 269.22H490.5" stroke="#b4b4b4" stroke-width="0.8"/><rect x="491.3" y="266.42" width="5.9" height="5.6" fill="#8c7ca8" stroke="#5e5080" stroke-width="0.55"/><rect x="491.9" y="266.92" width="4.7" height="1.3" fill="#f0ecf6"/><rect x="492.3" y="268.82" width="3.9" height="2.2" fill="#e0dcea"/><rect x="493.3" y="269.32" width="1.9" height="1.7" fill="#1a1a2a"/><path d="M485 277.90H490.5" stroke="#b4b4b4" stroke-width="0.8"/><rect x="491.3" y="275.10" width="5.9" height="5.6" fill="#8c7ca8" stroke="#5e5080" stroke-width="0.55"/><rect x="491.9" y="275.60" width="4.7" height="1.3" fill="#f0ecf6"/><rect x="492.3" y="277.50" width="3.9" height="2.2" fill="#e0dcea"/><rect x="493.3" y="278.00" width="1.9" height="1.7" fill="#1a1a2a"/><path d="M485 286.58H490.5" stroke="#b4b4b4" stroke-width="0.8"/><rect x="491.3" y="283.78" width="5.9" height="5.6" fill="#8c7ca8" stroke="#5e5080" stroke-width="0.55"/><rect x="491.9" y="284.28" width="4.7" height="1.3" fill="#f0ecf6"/><rect x="492.3" y="286.18" width="3.9" height="2.2" fill="#e0dcea"/><rect x="493.3" y="286.68" width="1.9" height="1.7" fill="#1a1a2a"/><path d="M485 295.26H490.5" stroke="#b4b4b4" stroke-width="0.8"/><rect x="491.3" y="292.46" width="5.9" height="5.6" fill="#8c7ca8" stroke="#5e5080" stroke-width="0.55"/><rect x="491.9" y="292.96" width="4.7" height="1.3" fill="#f0ecf6"/><rect x="492.3" y="294.86" width="3.9" height="2.2" fill="#e0dcea"/><rect x="493.3" y="295.36" width="1.9" height="1.7" fill="#1a1a2a"/><path d="M485 303.94H490.5" stroke="#b4b4b4" stroke-width="0.8"/><rect x="491.3" y="301.14" width="5.9" height="5.6" fill="#8c7ca8" stroke="#5e5080" stroke-width="0.55"/><rect x="491.9" y="301.64" width="4.7" height="1.3" fill="#f0ecf6"/><rect x="492.3" y="303.54" width="3.9" height="2.2" fill="#e0dcea"/><rect x="493.3" y="304.04" width="1.9" height="1.7" fill="#1a1a2a"/><path d="M485 312.62H490.5" stroke="#b4b4b4" stroke-width="0.8"/><rect x="491.3" y="309.82" width="5.9" height="5.6" fill="#8c7ca8" stroke="#5e5080" stroke-width="0.55"/><rect x="491.9" y="310.32" width="4.7" height="1.3" fill="#f0ecf6"/><rect x="492.3" y="312.22" width="3.9" height="2.2" fill="#e0dcea"/><rect x="493.3" y="312.72" width="1.9" height="1.7" fill="#1a1a2a"/><path d="M485 321.30H490.5" stroke="#b4b4b4" stroke-width="0.8"/><rect x="491.3" y="318.50" width="5.9" height="5.6" fill="#8c7ca8" stroke="#5e5080" stroke-width="0.55"/><rect x="491.9" y="319.00" width="4.7" height="1.3" fill="#f0ecf6"/><rect x="492.3" y="320.90" width="3.9" height="2.2" fill="#e0dcea"/><rect x="493.3" y="321.40" width="1.9" height="1.7" fill="#1a1a2a"/><path d="M485 329.98H490.5" stroke="#b4b4b4" stroke-width="0.8"/><rect x="491.3" y="327.18" width="5.9" height="5.6" fill="#8c7ca8" stroke="#5e5080" stroke-width="0.55"/><rect x="491.9" y="327.68" width="4.7" height="1.3" fill="#f0ecf6"/><rect x="492.3" y="329.58" width="3.9" height="2.2" fill="#e0dcea"/><rect x="493.3" y="330.08" width="1.9" height="1.7" fill="#1a1a2a"/><path d="M485 338.66H490.5" stroke="#b4b4b4" stroke-width="0.8"/><rect x="491.3" y="335.86" width="5.9" height="5.6" fill="#8c7ca8" stroke="#5e5080" stroke-width="0.55"/><rect x="491.9" y="336.36" width="4.7" height="1.3" fill="#f0ecf6"/><rect x="492.3" y="338.26" width="3.9" height="2.2" fill="#e0dcea"/><rect x="493.3" y="338.76" width="1.9" height="1.7" fill="#1a1a2a"/><path d="M485 347.34H490.5" stroke="#b4b4b4" stroke-width="0.8"/><rect x="491.3" y="344.54" width="5.9" height="5.6" fill="#8c7ca8" stroke="#5e5080" stroke-width="0.55"/><rect x="491.9" y="345.04" width="4.7" height="1.3" fill="#f0ecf6"/><rect x="492.3" y="346.94" width="3.9" height="2.2" fill="#e0dcea"/><rect x="493.3" y="347.44" width="1.9" height="1.7" fill="#1a1a2a"/><circle cx="485.4" cy="356.02" r="1.2" fill="#fff" stroke="#777" stroke-width="0.7"/><path d="M486.6 356.02H489" stroke="#777" stroke-width="0.7"/><circle cx="493.4" cy="354.92" r="1.6" fill="#8a8478" stroke="#3a3630" stroke-width="0.7"/><circle cx="493.4" cy="354.72" r="0.55" fill="#e8e4d8"/><path d="M493.4 356.42V358.82M493.4 357.82H494.8" stroke="#3a3630" stroke-width="0.9"/><circle cx="485.4" cy="364.70" r="1.2" fill="#fff" stroke="#777" stroke-width="0.7"/><path d="M486.6 364.70H489" stroke="#777" stroke-width="0.7"/><circle cx="493.4" cy="363.60" r="1.6" fill="#8a8478" stroke="#3a3630" stroke-width="0.7"/><circle cx="493.4" cy="363.40" r="0.55" fill="#e8e4d8"/><path d="M493.4 365.10V367.50M493.4 366.50H494.8" stroke="#3a3630" stroke-width="0.9"/><circle cx="485.4" cy="373.38" r="1.2" fill="#fff" stroke="#777" stroke-width="0.7"/><path d="M486.6 373.38H489" stroke="#777" stroke-width="0.7"/><circle cx="493.4" cy="372.28" r="1.6" fill="#8a8478" stroke="#3a3630" stroke-width="0.7"/><circle cx="493.4" cy="372.08" r="0.55" fill="#e8e4d8"/><path d="M493.4 373.78V376.18M493.4 375.18H494.8" stroke="#3a3630" stroke-width="0.9"/><circle cx="485.4" cy="382.06" r="1.2" fill="#fff" stroke="#777" stroke-width="0.7"/><path d="M486.6 382.06H489" stroke="#777" stroke-width="0.7"/><path d="M491 379.56H493V383.56H497" fill="none" stroke="#444" stroke-width="0.7"/><path d="M496 382.36L497.5 383.56L496 384.76" fill="#222" stroke="#222" stroke-width="0.5"/><circle cx="474.8" cy="390.74" r="1.3" fill="#fff" stroke="#666" stroke-width="0.7"/><path d="M476.1 390.74H478.5" stroke="#666" stroke-width="0.7"/><rect x="482.3" y="388.14" width="5" height="5.6" fill="#fff" stroke="#333" stroke-width="0.75"/><path d="M482.3 389.74H487.3" stroke="#333" stroke-width="0.7"/><circle cx="474.8" cy="399.42" r="1.3" fill="#fff" stroke="#666" stroke-width="0.7"/><path d="M476.1 399.42H478.5" stroke="#666" stroke-width="0.7"/><rect x="482.3" y="396.82" width="5" height="5.6" fill="#fff" stroke="#333" stroke-width="0.75"/><path d="M482.3 398.42H487.3" stroke="#333" stroke-width="0.7"/><circle cx="474.8" cy="408.10" r="1.3" fill="#fff" stroke="#666" stroke-width="0.7"/><path d="M476.1 408.10H478.5" stroke="#666" stroke-width="0.7"/><rect x="482.3" y="405.50" width="5" height="5.6" fill="#fff" stroke="#333" stroke-width="0.75"/><path d="M482.3 407.10H487.3" stroke="#333" stroke-width="0.7"/><circle cx="474.8" cy="416.78" r="1.3" fill="#fff" stroke="#666" stroke-width="0.7"/><path d="M476.1 416.78H478.5" stroke="#666" stroke-width="0.7"/><rect x="482.3" y="414.18" width="5" height="5.6" fill="#fff" stroke="#333" stroke-width="0.75"/><path d="M482.3 415.78H487.3" stroke="#333" stroke-width="0.7"/><circle cx="474.8" cy="425.46" r="1.3" fill="#fff" stroke="#666" stroke-width="0.7"/><path d="M476.1 425.46H478.5" stroke="#666" stroke-width="0.7"/><rect x="482.3" y="422.86" width="5" height="5.6" fill="#fff" stroke="#333" stroke-width="0.75"/><path d="M482.3 424.46H487.3" stroke="#333" stroke-width="0.7"/><circle cx="474.8" cy="434.14" r="1.3" fill="#fff" stroke="#666" stroke-width="0.7"/><path d="M476.1 434.14H478.5" stroke="#666" stroke-width="0.7"/><rect x="482.3" y="431.54" width="5" height="5.6" fill="#fff" stroke="#333" stroke-width="0.75"/><path d="M482.3 433.14H487.3" stroke="#333" stroke-width="0.7"/><circle cx="474.8" cy="442.82" r="1.3" fill="#fff" stroke="#666" stroke-width="0.7"/><path d="M476.1 442.82H478.5" stroke="#666" stroke-width="0.7"/><rect x="482.3" y="440.22" width="5" height="5.6" fill="#fff" stroke="#333" stroke-width="0.75"/><path d="M482.3 441.82H487.3" stroke="#333" stroke-width="0.7"/><circle cx="474.8" cy="451.50" r="1.3" fill="#fff" stroke="#666" stroke-width="0.7"/><path d="M476.1 451.50H478.5" stroke="#666" stroke-width="0.7"/><rect x="482.3" y="448.90" width="5" height="5.6" fill="#fff" stroke="#333" stroke-width="0.75"/><path d="M482.3 450.50H487.3" stroke="#333" stroke-width="0.7"/><circle cx="474.8" cy="460.18" r="1.3" fill="#fff" stroke="#666" stroke-width="0.7"/><path d="M476.1 460.18H478.5" stroke="#666" stroke-width="0.7"/><rect x="482.3" y="457.58" width="5" height="5.6" fill="#fff" stroke="#333" stroke-width="0.75"/><path d="M482.3 459.18H487.3" stroke="#333" stroke-width="0.7"/></svg><div class="t" style="left:472px;top:58.40px;font-size:6px;color:#1a1a1a;-webkit-text-stroke:0.08px #1a1a1a">Custom types</div><div class="t" style="left:472px;top:67.08px;font-size:6px;color:#1a1a1a;-webkit-text-stroke:0.08px #1a1a1a">Domains</div><div class="t" style="left:472px;top:75.76px;font-size:6px;color:#1a1a1a;-webkit-text-stroke:0.08px #1a1a1a">Tables</div><div class="t" style="left:490.2px;top:84.44px;font-size:5.8px;font-weight:bold;color:#000;-webkit-text-stroke:0.1px #000">contacttype</div><div class="t" style="left:490.2px;top:93.12px;font-size:5.8px;font-weight:bold;color:#000;-webkit-text-stroke:0.1px #000">customer</div><div class="t" style="left:490.2px;top:101.80px;font-size:5.8px;font-weight:bold;color:#000;-webkit-text-stroke:0.1px #000">customer_contact</div><div class="t" style="left:490.2px;top:110.48px;font-size:5.8px;font-weight:bold;color:#000;-webkit-text-stroke:0.1px #000">customer_history</div><div class="t" style="left:490.2px;top:119.16px;font-size:5.8px;font-weight:bold;color:#000;-webkit-text-stroke:0.1px #000">customer_udf</div><div class="t" style="left:490.2px;top:127.84px;font-size:5.8px;font-weight:bold;color:#000;-webkit-text-stroke:0.1px #000">freelancer</div><div class="t" style="left:490.2px;top:136.52px;font-size:5.8px;font-weight:bold;color:#000;-webkit-text-stroke:0.1px #000">freelancer_contact</div><div class="t" style="left:490.2px;top:145.20px;font-size:5.8px;font-weight:bold;color:#000;-webkit-text-stroke:0.1px #000">freelancer_history</div><div class="t" style="left:490.2px;top:153.88px;font-size:5.8px;font-weight:bold;color:#000;-webkit-text-stroke:0.1px #000">freelancer_udf</div><div class="t" style="left:490.2px;top:162.56px;font-size:5.8px;font-weight:bold;color:#000;-webkit-text-stroke:0.1px #000">historytype</div><div class="t" style="left:490.2px;top:171.24px;font-size:5.8px;font-weight:bold;color:#000;-webkit-text-stroke:0.1px #000">jobinfo</div><div class="t" style="left:490.2px;top:179.92px;font-size:5.8px;font-weight:bold;color:#000;-webkit-text-stroke:0.1px #000">partner</div><div class="t" style="left:499.7px;top:188.60px;font-size:6px;color:#1a1a1a;-webkit-text-stroke:0.08px #1a1a1a">id</div><div class="t" style="left:499.7px;top:197.28px;font-size:6px;color:#1a1a1a;-webkit-text-stroke:0.08px #1a1a1a">creationDate</div><div class="t" style="left:499.7px;top:205.96px;font-size:6px;color:#1a1a1a;-webkit-text-stroke:0.08px #1a1a1a">creationUser</div><div class="t" style="left:499.7px;top:214.64px;font-size:6px;color:#1a1a1a;-webkit-text-stroke:0.08px #1a1a1a">changedDate</div><div class="t" style="left:499.7px;top:223.32px;font-size:6px;color:#1a1a1a;-webkit-text-stroke:0.08px #1a1a1a">changedUser</div><div class="t" style="left:499.7px;top:232.00px;font-size:6px;color:#1a1a1a;-webkit-text-stroke:0.08px #1a1a1a">name1</div><div class="t" style="left:499.7px;top:240.68px;font-size:6px;color:#1a1a1a;-webkit-text-stroke:0.08px #1a1a1a">name2</div><div class="t" style="left:499.7px;top:249.36px;font-size:6px;color:#1a1a1a;-webkit-text-stroke:0.08px #1a1a1a">company</div><div class="t" style="left:499.7px;top:258.04px;font-size:6px;color:#1a1a1a;-webkit-text-stroke:0.08px #1a1a1a">street</div><div class="t" style="left:499.7px;top:266.72px;font-size:6px;color:#1a1a1a;-webkit-text-stroke:0.08px #1a1a1a">country</div><div class="t" style="left:499.7px;top:275.40px;font-size:6px;color:#1a1a1a;-webkit-text-stroke:0.08px #1a1a1a">plz</div><div class="t" style="left:499.7px;top:284.08px;font-size:6px;color:#1a1a1a;-webkit-text-stroke:0.08px #1a1a1a">city</div><div class="t" style="left:499.7px;top:292.76px;font-size:6px;color:#1a1a1a;-webkit-text-stroke:0.08px #1a1a1a">comments</div><div class="t" style="left:499.7px;top:301.44px;font-size:6px;color:#1a1a1a;-webkit-text-stroke:0.08px #1a1a1a">partner_id</div><div class="t" style="left:499.7px;top:310.12px;font-size:6px;color:#1a1a1a;-webkit-text-stroke:0.08px #1a1a1a">debitorNr</div><div class="t" style="left:499.7px;top:318.80px;font-size:6px;color:#1a1a1a;-webkit-text-stroke:0.08px #1a1a1a">kreditorNr</div><div class="t" style="left:499.7px;top:327.48px;font-size:6px;color:#1a1a1a;-webkit-text-stroke:0.08px #1a1a1a">titel</div><div class="t" style="left:499.7px;top:336.16px;font-size:6px;color:#1a1a1a;-webkit-text-stroke:0.08px #1a1a1a">nationalitaet</div><div class="t" style="left:499.7px;top:344.84px;font-size:6px;color:#1a1a1a;-webkit-text-stroke:0.08px #1a1a1a">geburtsdatum</div><div class="t" style="left:500px;top:353.52px;font-size:6px;color:#1a1a1a;-webkit-text-stroke:0.08px #1a1a1a">PK_partner</div><div class="t" style="left:500px;top:362.20px;font-size:6px;color:#1a1a1a;-webkit-text-stroke:0.08px #1a1a1a">FKD0BCDCC895129E74</div><div class="t" style="left:500px;top:370.88px;font-size:6px;color:#1a1a1a;-webkit-text-stroke:0.08px #1a1a1a">FKD0BCDCC848FB4617</div><div class="t" style="left:499.1px;top:379.56px;font-size:6px;color:#1a1a1a;-webkit-text-stroke:0.08px #1a1a1a">FKD0BCDCC848FB4617</div><div class="t" style="left:490.2px;top:388.24px;font-size:5.8px;font-weight:bold;color:#000;-webkit-text-stroke:0.1px #000">partner_contact</div><div class="t" style="left:490.2px;top:396.92px;font-size:5.8px;font-weight:bold;color:#000;-webkit-text-stroke:0.1px #000">partner_history</div><div class="t" style="left:490.2px;top:405.60px;font-size:5.8px;font-weight:bold;color:#000;-webkit-text-stroke:0.1px #000">partner_udf</div><div class="t" style="left:490.2px;top:414.28px;font-size:5.8px;font-weight:bold;color:#000;-webkit-text-stroke:0.1px #000">project</div><div class="t" style="left:490.2px;top:422.96px;font-size:5.8px;font-weight:bold;color:#000;-webkit-text-stroke:0.1px #000">project_history</div><div class="t" style="left:490.2px;top:431.64px;font-size:5.8px;font-weight:bold;color:#000;-webkit-text-stroke:0.1px #000">project_position</div><div class="t" style="left:490.2px;top:440.32px;font-size:5.8px;font-weight:bold;color:#000;-webkit-text-stroke:0.1px #000">project_udf</div><div class="t" style="left:490.2px;top:449.00px;font-size:5.8px;font-weight:bold;color:#000;-webkit-text-stroke:0.1px #000">savedprofilesearch</div><div class="t" style="left:490.2px;top:457.68px;font-size:5.8px;font-weight:bold;color:#000;-webkit-text-stroke:0.1px #000">savedprofilesearchignore</div></div>
<div class="a" style="left:602.7px;top:56px;width:8.6px;height:408px;background:#f3f4f6;border:1px solid #dfe3e8"></div><div class="a" style="left:602.7px;top:63px;width:8.6px;height:129.5px;background:linear-gradient(90deg,#eef3f9,#d3dfec);border:1px solid #b4c4d6;border-radius:1px"></div><div class="a" style="left:604.7px;top:126.50px;width:5px;height:0.7px;background:#9aaac0"></div><div class="a" style="left:604.7px;top:128.50px;width:5px;height:0.7px;background:#9aaac0"></div><svg class="a" style="left:604.2px;top:57.8px" width="6" height="4"><path d="M0.8 3.2L3 1 5.2 3.2z" fill="#223"/></svg><svg class="a" style="left:604.2px;top:458.8px" width="6" height="4"><path d="M0.8 0.8L3 3 5.2 0.8z" fill="#223"/></svg>
<div class="a" style="left:616px;top:29px;width:1px;height:439px;background:#c4c1b0"></div>
<div class="a" style="left:0;top:468.2px;width:618px;height:1.5px;background:#c4c0b0"></div>
<div class="a" style="left:0;top:469.5px;width:618px;height:1px;background:#f8f6ee"></div>
<div class="t" style="left:2px;top:471.8px;font-size:6.1px;color:#1a1a1a;-webkit-text-stroke:0.1px #1a1a1a">File loaded</div>
</div></body></html>
